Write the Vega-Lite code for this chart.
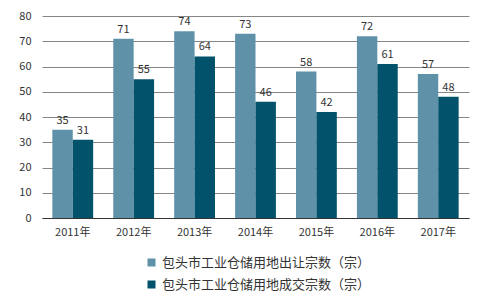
{
  "$schema": "https://vega.github.io/schema/vega-lite/v6.json",
  "width": 427,
  "height": 202,
  "autosize": {"type": "none"},
  "padding": {"left": 42, "top": 16, "right": 18, "bottom": 90},
  "background": "white",
  "config": {
    "view": {"stroke": null},
    "font": "Noto Sans CJK SC"
  },
  "data": {
    "values": [
      {"year": "2011年", "series": "包头市工业仓储用地出让宗数（宗）", "value": 35},
      {"year": "2011年", "series": "包头市工业仓储用地成交宗数（宗）", "value": 31},
      {"year": "2012年", "series": "包头市工业仓储用地出让宗数（宗）", "value": 71},
      {"year": "2012年", "series": "包头市工业仓储用地成交宗数（宗）", "value": 55},
      {"year": "2013年", "series": "包头市工业仓储用地出让宗数（宗）", "value": 74},
      {"year": "2013年", "series": "包头市工业仓储用地成交宗数（宗）", "value": 64},
      {"year": "2014年", "series": "包头市工业仓储用地出让宗数（宗）", "value": 73},
      {"year": "2014年", "series": "包头市工业仓储用地成交宗数（宗）", "value": 46},
      {"year": "2015年", "series": "包头市工业仓储用地出让宗数（宗）", "value": 58},
      {"year": "2015年", "series": "包头市工业仓储用地成交宗数（宗）", "value": 42},
      {"year": "2016年", "series": "包头市工业仓储用地出让宗数（宗）", "value": 72},
      {"year": "2016年", "series": "包头市工业仓储用地成交宗数（宗）", "value": 61},
      {"year": "2017年", "series": "包头市工业仓储用地出让宗数（宗）", "value": 57},
      {"year": "2017年", "series": "包头市工业仓储用地成交宗数（宗）", "value": 48}
    ]
  },
  "encoding": {
    "x": {
      "field": "year",
      "type": "nominal",
      "scale": {"paddingInner": 0.33, "paddingOuter": 0.17},
      "axis": {
        "title": null,
        "labelAngle": 0,
        "labelFontSize": 11,
        "labelColor": "#333333",
        "labelPadding": 8,
        "ticks": false,
        "domainColor": "#333333",
        "domainWidth": 1
      }
    },
    "xOffset": {
      "field": "series",
      "sort": ["包头市工业仓储用地出让宗数（宗）", "包头市工业仓储用地成交宗数（宗）"],
      "scale": {"paddingInner": 0, "paddingOuter": 0}
    },
    "y": {
      "field": "value",
      "type": "quantitative",
      "scale": {"domain": [0, 80], "nice": false},
      "axis": {
        "title": null,
        "values": [0, 10, 20, 30, 40, 50, 60, 70, 80],
        "labelOverlap": false,
        "domain": false,
        "ticks": false,
        "labelFontSize": 11,
        "labelColor": "#333333",
        "labelPadding": 11,
        "gridColor": "#868686",
        "gridWidth": 1
      }
    }
  },
  "layer": [
    {
      "mark": {"type": "bar"},
      "encoding": {
        "color": {
          "field": "series",
          "type": "nominal",
          "sort": ["包头市工业仓储用地出让宗数（宗）", "包头市工业仓储用地成交宗数（宗）"],
          "scale": {"range": ["#5f92a8", "#02526b"]},
          "legend": {
            "title": null,
            "orient": "none",
            "direction": "vertical",
            "legendX": 103,
            "legendY": 240,
            "symbolType": "square",
            "symbolSize": 64,
            "symbolStrokeWidth": 0,
            "labelFontSize": 13,
            "labelLimit": 400,
            "labelColor": "#333333",
            "labelOffset": 4,
            "rowPadding": 8
          }
        }
      }
    },
    {
      "mark": {"type": "text", "dy": -9, "fontSize": 11, "color": "#333333"},
      "encoding": {
        "text": {"field": "value", "type": "quantitative"}
      }
    }
  ]
}
